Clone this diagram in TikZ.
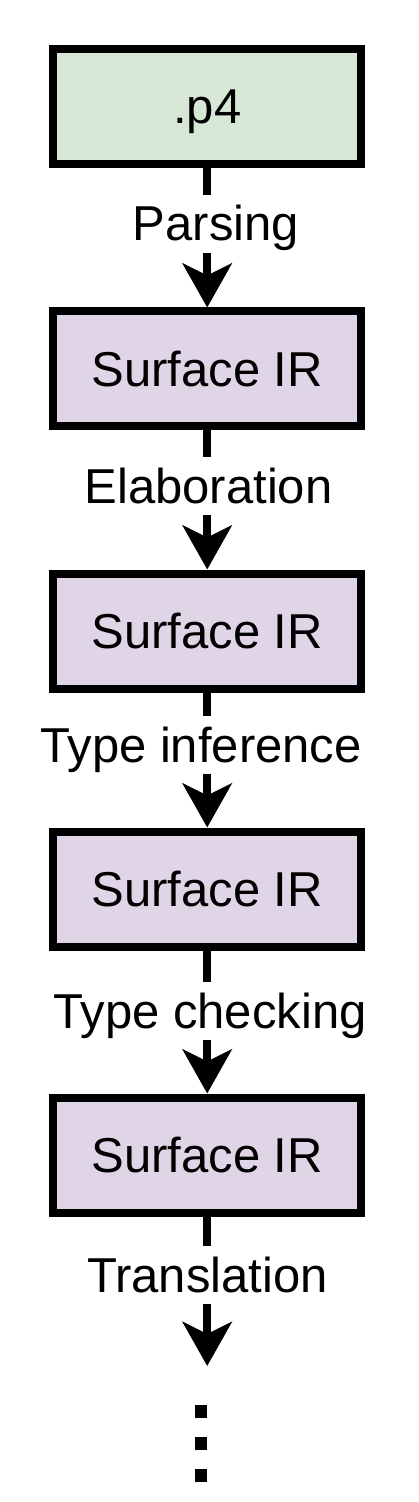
\documentclass[tikz,border=0pt]{standalone}
\usepackage{fontspec}
\setmainfont{Liberation Sans}
\usetikzlibrary{arrows.meta}
\definecolor{boxgreen}{HTML}{D7E7D5}
\definecolor{boxpurple}{HTML}{DFD5E6}
\begin{document}
\begin{tikzpicture}[x=0.5pt,y=-0.5pt,
  irbox/.style={draw=black, line width=4pt, rectangle, minimum width=154pt, minimum height=57.5pt,
    inner sep=0pt, text height=17.5pt, text depth=0pt, font=\fontsize{24.5pt}{29pt}\selectfont, fill=boxpurple},
  srcbox/.style={irbox, fill=boxgreen},
  passlabel/.style={inner sep=0pt, text height=23pt, text depth=6pt, anchor=base,
    font=\fontsize{24.5pt}{29pt}\selectfont},
  conn/.style={line width=4pt, draw=black},
  flow/.style={conn, -{Stealth[length=22pt, width=24.5pt, inset=6pt]}},
  dotsq/.style={fill=black}
]
\useasboundingbox (0,0) rectangle (418,1502);

\node[srcbox] (src) at (207.2,106.5) {.p4};
\node[irbox] (ir1) at (207.2,369) {Surface IR};
\node[irbox] (ir2) at (207.2,631) {Surface IR};
\node[irbox] (ir3) at (207.2,889) {Surface IR};
\node[irbox] (ir4) at (207.2,1155) {Surface IR};

\node[passlabel] (p1) at (216,241) {Parsing};
\node[passlabel] (p2) at (208.5,503) {Elaboration};
\node[passlabel] (p3) at (201,762) {Type inference};
\node[passlabel] (p4) at (210,1028) {Type checking};
\node[passlabel] (p5) at (207.5,1292) {Translation};

\coordinate (endtip) at (207.2,1366);

\draw[conn] (src.south) -- (src.south |- p1.north);
\draw[flow] (src.south |- p1.south) -- (ir1.north);
\draw[conn] (ir1.south) -- (ir1.south |- p2.north);
\draw[flow] (ir1.south |- p2.south) -- (ir2.north);
\draw[conn] (ir2.south) -- (ir2.south |- p3.north);
\draw[flow] (ir2.south |- p3.south) -- (ir3.north);
\draw[conn] (ir3.south) -- (ir3.south |- p4.north);
\draw[flow] (ir3.south |- p4.south) -- (ir4.north);
\draw[conn] (ir4.south) -- (ir4.south |- p5.north);
\draw[flow] (ir4.south |- p5.south) -- (endtip);

\fill[dotsq] (195,1405) rectangle (207,1418);
\fill[dotsq] (195,1437) rectangle (207,1450);
\fill[dotsq] (195,1469) rectangle (207,1482);
\end{tikzpicture}
\end{document}
